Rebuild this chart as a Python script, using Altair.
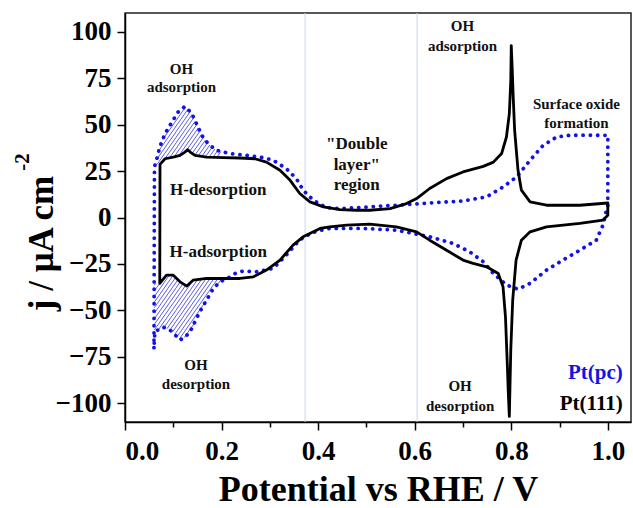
import numpy as np
import pandas as pd
import altair as alt

# ---------------- data ----------------
# Pt(111) solid black CV: anodic (upper) branch
pt111_an_x = [0.0725, 0.083, 0.100, 0.114, 0.124, 0.130, 0.135, 0.145, 0.169, 0.204, 0.238, 0.269,
              0.293, 0.321, 0.342, 0.362, 0.383, 0.411, 0.445, 0.480, 0.507, 0.549, 0.583, 0.604,
              0.631, 0.666, 0.700, 0.742, 0.763, 0.780, 0.790, 0.796, 0.799, 0.800, 0.802, 0.804,
              0.807, 0.814, 0.821, 0.839, 0.873, 0.942, 1.000]
pt111_an_y = [28.6, 31.6, 32.5, 33.4, 35.2, 36.5, 35.2, 33.4, 32.5, 32.2, 32.0, 31.6,
              29.8, 25.4, 20.0, 12.9, 8.4, 5.7, 4.2, 3.9, 3.9, 4.8, 7.5, 10.2,
              15.6, 20.9, 24.5, 27.5, 29.8, 34.4, 43.3, 55.8, 73.7, 92.5, 80.0, 65.0,
              46.9, 25.4, 14.7, 8.4, 6.6, 6.6, 7.8]
# Pt(111) cathodic (lower) branch
pt111_ca_x = [1.000, 0.990, 0.942, 0.873, 0.839, 0.821, 0.810, 0.803, 0.799, 0.797, 0.796, 0.794,
              0.792, 0.788, 0.783, 0.773, 0.749, 0.721, 0.700, 0.666, 0.631, 0.604, 0.562, 0.507,
              0.459, 0.424, 0.404, 0.369, 0.348, 0.321, 0.293, 0.266, 0.238, 0.204, 0.169, 0.141,
              0.128, 0.114, 0.100, 0.086, 0.072]
pt111_ca_y = [1.2, -1.4, -3.2, -5.0, -7.7, -12.2, -22.9, -44.4, -71.2, -95.0, -107.0, -95.0,
              -80.2, -53.4, -37.3, -30.1, -26.5, -24.7, -22.9, -17.6, -12.2, -7.7, -5.0, -3.6,
              -4.1, -5.0, -5.9, -10.4, -14.9, -22.9, -28.3, -31.9, -32.8, -32.8, -32.8, -33.7,
              -36.9, -34.6, -31.0, -31.0, -35.4]

# Pt(pc) dotted blue CV: anodic branch
ptpc_an_x = [0.060, 0.061, 0.066, 0.072, 0.083, 0.097, 0.110, 0.124, 0.138, 0.148, 0.159, 0.172,
             0.190, 0.217, 0.252, 0.280, 0.307, 0.334, 0.355, 0.369, 0.390, 0.418, 0.450, 0.493,
             0.562, 0.631, 0.700, 0.749, 0.783, 0.811, 0.839, 0.866, 0.894, 0.921, 0.960, 1.000,
             1.000]
ptpc_an_y = [-70.0, 27.2, 31.7, 37.9, 45.1, 51.3, 56.7, 59.7, 56.1, 50.5, 44.2, 39.7,
             36.1, 34.4, 33.4, 32.5, 30.8, 26.3, 20.9, 14.7, 9.3, 5.2, 4.8, 5.5,
             6.6, 7.8, 8.9, 11.1, 16.4, 21.8, 30.8, 38.8, 43.3, 44.2, 44.3, 44.2,
             5.7]
# Pt(pc) cathodic branch
ptpc_ca_x = [0.997, 0.990, 0.976, 0.942, 0.907, 0.873, 0.839, 0.814, 0.790, 0.763, 0.742, 0.714,
             0.680, 0.631, 0.597, 0.562, 0.493, 0.424, 0.395, 0.370, 0.355, 0.334, 0.307, 0.272,
             0.245, 0.230, 0.217, 0.197, 0.183, 0.169, 0.155, 0.145, 0.135, 0.124, 0.114, 0.104,
             0.093, 0.079, 0.062, 0.060]
ptpc_ca_y = [3.9, -4.1, -12.2, -17.6, -22.9, -28.3, -35.4, -38.6, -36.3, -30.1, -23.8, -18.5,
             -14.0, -10.4, -8.6, -6.8, -5.9, -5.9, -7.5, -10.5, -14.0, -20.2, -27.4, -29.2,
             -28.8, -29.8, -32.0, -34.6, -38.1, -44.4, -50.7, -56.0, -61.4, -64.4, -65.9, -63.2,
             -60.5, -59.0, -61.4, -70.0]

# region boundaries (light vertical lines)
region_x = [0.373, 0.605]

# annotations
ann_text = ["OH", "adsorption", "H-desorption", "H-adsorption", "OH", "desorption",
            "\"Double", "layer\"", "region", "OH", "adsorption", "Surface oxide", "formation",
            "OH", "desorption"]
ann_x = [0.117, 0.117, 0.193, 0.193, 0.147, 0.147, 0.480, 0.480, 0.480, 0.699, 0.699,
         0.935, 0.935, 0.694, 0.694]
ann_y = [80.0, 70.0, 14.6, -18.3, -79.3, -89.5, 39.8, 28.0, 17.3, 103.0, 92.5, 61.3, 50.6,
         -90.9, -101.3]
ann_size = [15, 15, 17, 17, 15, 15, 17, 17, 17, 15, 15, 15, 15, 15, 15]

legend_text = ["Pt(pc)", "Pt(111)"]
legend_x = [1.031, 1.031]
legend_y = [-83.7, -100.2]
legend_color = ["#1414e0", "#000000"]

x_ticks = [round(0.1 * k, 1) for k in range(11)]
y_ticks = [-100 + 12.5 * k for k in range(17)]

BLUE = "#1212e6"
FONT = "Liberation Serif"

# ---------------- derived tables ----------------
def loop_df(ax, ay, cx, cy, close=True):
    xs = list(ax) + list(cx)
    ys = list(ay) + list(cy)
    if close:
        xs.append(ax[0]); ys.append(ay[0])
    return pd.DataFrame({"x": xs, "y": ys, "i": range(len(xs))})

pt111_df = loop_df(pt111_an_x, pt111_an_y, pt111_ca_x, pt111_ca_y, close=True)
ptpc_df = loop_df(ptpc_an_x, ptpc_an_y, ptpc_ca_x, ptpc_ca_y, close=False)

def branch(xs, ys, lo, hi):
    xs = np.asarray(xs, float); ys = np.asarray(ys, float)
    m = (xs >= lo) & (xs <= hi)
    o = np.argsort(xs[m], kind="stable")
    return xs[m][o], ys[m][o]

bax, bay = branch(pt111_an_x, pt111_an_y, 0.0, 0.3)
bcx, bcy = branch(pt111_ca_x, pt111_ca_y, 0.0, 0.3)
pax, pay = branch(ptpc_an_x, ptpc_an_y, 0.0, 0.3)
pcx, pcy = branch(ptpc_ca_x, ptpc_ca_y, 0.0, 0.3)

# hatch lines filling the gap between the two curves at low potential
slope = 370.0
step = 3.0
xs = np.arange(0.0608, 0.200, 0.0002)
regions = [
    (np.interp(xs, bax, bay), np.interp(xs, pax, pay)),   # upper: black -> blue
    (np.interp(xs, pcx, pcy), np.interp(xs, bcx, bcy)),   # lower: blue -> black
]
segs = []
for lo, hi in regions:
    for c in np.arange(-170.0, 60.0, step):
        yl = slope * xs + c
        idx = np.flatnonzero((yl >= lo) & (yl <= hi))
        if len(idx) < 2:
            continue
        for r in np.split(idx, np.flatnonzero(np.diff(idx) > 1) + 1):
            if len(r) < 2:
                continue
            segs.append({"x": xs[r[0]], "y": yl[r[0]], "x2": xs[r[-1]], "y2": yl[r[-1]]})
hatch_df = pd.DataFrame(segs)

ann_df = pd.DataFrame({"t": ann_text, "x": ann_x, "y": ann_y, "s": ann_size})
leg_df = pd.DataFrame({"t": legend_text, "x": legend_x, "y": legend_y, "c": legend_color})
vl_df = pd.DataFrame({"x": region_x})

# ---------------- scales / axes ----------------
xscale = alt.Scale(domain=[0, 1.048], nice=False, zero=False)
yscale = alt.Scale(domain=[-110, 110], nice=False, zero=False)

x_axis = alt.Axis(
    values=x_ticks,
    labelExpr="round(datum.value*10) % 2 == 0 ? format(datum.value, '.1f') : ''",
    tickSize={"condition": {"test": "round(datum.value*10) % 2 == 0", "value": 8}, "value": 5},
    title="Potential vs RHE / V", titleFont=FONT, titleFontSize=36, titleFontWeight="bold",
    titleY=78, titleBaseline="alphabetic", titleColor="black",
    labelFont=FONT, labelFontSize=27, labelFontWeight="bold", labelColor="black",
    labelPadding=8, grid=False, domainColor="black", domainWidth=1.5,
    tickColor="black", tickWidth=1.5,
)
y_axis = alt.Axis(
    values=y_ticks,
    labelExpr="datum.value % 25 == 0 ? format(datum.value, 'd') : ''",
    tickSize={"condition": {"test": "datum.value % 25 == 0", "value": 8}, "value": 5},
    title="j / μA cm", titleFont=FONT, titleFontSize=35, titleFontWeight="bold",
    titleAngle=270, titleX=-73, titleY=230, titleAlign="center", titleBaseline="alphabetic",
    titleColor="black",
    labelFont=FONT, labelFontSize=27, labelFontWeight="bold", labelColor="black",
    labelPadding=6, grid=False, domainColor="black", domainWidth=1.5,
    tickColor="black", tickWidth=1.5,
)

vlines = alt.Chart(vl_df).mark_rule(color="#c6d6ea", strokeWidth=1).encode(
    x=alt.X("x:Q", scale=xscale, axis=x_axis),
)

hatch = alt.Chart(hatch_df).mark_rule(color="#2a2ad8", strokeWidth=0.9, opacity=0.85).encode(
    x=alt.X("x:Q", scale=xscale), y=alt.Y("y:Q", scale=yscale, axis=y_axis),
    x2="x2:Q", y2="y2:Q",
)

blue_line = alt.Chart(ptpc_df).mark_line(
    color=BLUE, strokeWidth=3.8, strokeDash=[0.1, 7.2], strokeCap="round",
    strokeJoin="round",
).encode(
    x=alt.X("x:Q", scale=xscale), y=alt.Y("y:Q", scale=yscale), order="i:Q",
)

black_line = alt.Chart(pt111_df).mark_line(
    color="black", strokeWidth=2.8, strokeJoin="round", strokeCap="round",
).encode(
    x=alt.X("x:Q", scale=xscale), y=alt.Y("y:Q", scale=yscale), order="i:Q",
)

ann = alt.Chart(ann_df).mark_text(
    font=FONT, fontWeight="bold", color="#111111", align="center", baseline="middle",
).encode(
    x=alt.X("x:Q", scale=xscale), y=alt.Y("y:Q", scale=yscale), text="t:N",
    size=alt.Size("s:Q", scale=None, legend=None),
)

leg = alt.Chart(leg_df).mark_text(
    font=FONT, fontWeight="bold", fontSize=21, align="right", baseline="middle",
).encode(
    x=alt.X("x:Q", scale=xscale), y=alt.Y("y:Q", scale=yscale), text="t:N",
    color=alt.Color("c:N", scale=None, legend=None),
)

sup_df = pd.DataFrame({"t": ["-2"]})
sup = alt.Chart(sup_df).mark_text(
    font=FONT, fontWeight="bold", fontSize=21, angle=270, align="center",
    baseline="alphabetic", color="black",
).encode(x=alt.value(-96), y=alt.value(149), text="t:N")

chart = alt.layer(vlines, hatch, blue_line, black_line, ann, leg, sup).properties(
    width=506, height=409,
    autosize=alt.AutoSizeParams(type="none"),
    padding={"left": 125, "top": 13, "right": 2, "bottom": 86},
).configure_view(stroke="#222222", strokeWidth=1.5)

chart.save("out.html", embed_options={"renderer": "svg", "actions": False})
